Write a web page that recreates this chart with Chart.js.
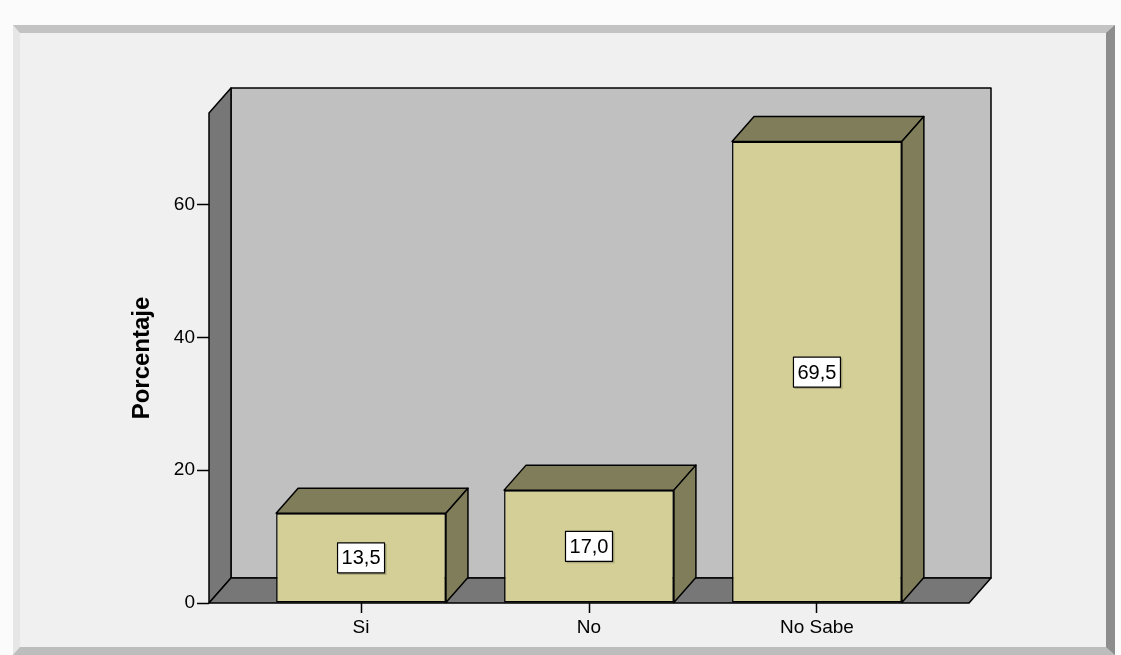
<!DOCTYPE html>
<html>
<head>
<meta charset="utf-8">
<title>Porcentaje</title>
<script src="https://cdn.jsdelivr.net/npm/chart.js@4"></script>
<style>
    html, body { margin: 0; padding: 0; background: #fbfbfb; overflow: hidden; }
    .frame {
        position: absolute; left: 13px; top: 25px; width: 1086px; height: 614px;
        background: #f0f0f0;
        border-top: 8px solid #c3c3c3; border-left: 7px solid #e6e6e6;
        border-right: 9px solid #8d8d8d; border-bottom: 8px solid #bdbdbd;
    }
    #myChart { position: absolute; left: 0; top: 0; }
</style>
</head>
<body>
<div class="frame"></div>
<canvas id="myChart" width="1121" height="655"></canvas>
<script>
// Chart data
const categories = ['Si', 'No', 'No Sabe'];
const percentages = [13.5, 17.0, 69.5];
const yTicks = [0, 20, 40, 60];
const yMax = 73.8;

// 3D depth of walls and bars (px)
const depthX = 22;
const depthY = -25;

function poly(ctx, pts, fill) {
    ctx.beginPath();
    ctx.moveTo(pts[0][0], pts[0][1]);
    for (let i = 1; i < pts.length; i++) ctx.lineTo(pts[i][0], pts[i][1]);
    ctx.closePath();
    ctx.fillStyle = fill;
    ctx.fill();
    ctx.stroke();
}

const box3d = {
    id: 'box3d',
    beforeDatasetsDraw(chart) {
        const ctx = chart.ctx;
        const a = chart.chartArea;
        ctx.save();
        ctx.lineWidth = 1.5;
        ctx.strokeStyle = '#000';
        ctx.lineJoin = 'round';
        // back wall
        poly(ctx, [[a.left + depthX, a.top + depthY], [a.right + depthX, a.top + depthY],
                   [a.right + depthX, a.bottom + depthY], [a.left + depthX, a.bottom + depthY]], '#c0c0c0');
        // left wall
        poly(ctx, [[a.left, a.top], [a.left + depthX, a.top + depthY],
                   [a.left + depthX, a.bottom + depthY], [a.left, a.bottom]], '#777777');
        // floor
        poly(ctx, [[a.left, a.bottom], [a.left + depthX, a.bottom + depthY],
                   [a.right + depthX, a.bottom + depthY], [a.right, a.bottom]], '#777777');
        ctx.restore();
    },
    afterDatasetsDraw(chart) {
        const ctx = chart.ctx;
        const meta = chart.getDatasetMeta(0);
        ctx.save();
        ctx.lineWidth = 1.5;
        ctx.strokeStyle = '#000';
        ctx.lineJoin = 'round';
        meta.data.forEach(function(bar, i) {
            const p = bar.getProps(['x', 'y', 'base', 'width'], true);
            const x0 = p.x - p.width / 2;
            const x1 = p.x + p.width / 2;
            // top face
            poly(ctx, [[x0, p.y], [x0 + depthX, p.y + depthY], [x1 + depthX, p.y + depthY], [x1, p.y]], '#807e5a');
            // side face
            poly(ctx, [[x1, p.y], [x1 + depthX, p.y + depthY], [x1 + depthX, p.base + depthY], [x1, p.base]], '#807e5a');

            // value label box
            const cy = (p.y + p.base) / 2;
            const w = 47, h = 30;
            ctx.fillStyle = 'rgba(0,0,0,0.18)';
            ctx.fillRect(p.x - w / 2 + 1, cy - h / 2 + 1, w + 1, h + 1);
            ctx.fillStyle = '#ffffff';
            ctx.fillRect(p.x - w / 2, cy - h / 2, w, h);
            ctx.lineWidth = 1.2;
            ctx.strokeRect(p.x - w / 2, cy - h / 2, w, h);
            ctx.lineWidth = 1.5;
            ctx.fillStyle = '#000';
            ctx.font = '20px "Liberation Sans", Arial, sans-serif';
            ctx.textAlign = 'center';
            ctx.textBaseline = 'middle';
            ctx.fillText(percentages[i].toFixed(1).replace('.', ','), p.x, cy + 1);
        });
        ctx.restore();
    }
};

document.addEventListener("DOMContentLoaded", function() {
    const ctx = document.getElementById('myChart').getContext('2d');
    Chart.defaults.font.family = '"Liberation Sans", Arial, sans-serif';

    const data = {
        datasets: [{
            label: 'Porcentaje',
            data: percentages.map(function(v, i) { return {x: i, y: v}; }),
            backgroundColor: '#d3cf97',
            borderColor: '#000',
            borderWidth: 1.5,
            borderSkipped: false,
            barPercentage: 0.745,
            categoryPercentage: 1
        }]
    };

    const options = {
        responsive: false,
        animation: false,
        layout: {
            padding: { top: 113, right: 152, left: 0, bottom: 0 }
        },
        scales: {
            x: {
                type: 'linear',
                min: -0.667,
                max: 2.667,
                offset: false,
                afterBuildTicks: function(axis) {
                    axis.ticks = categories.map(function(c, i) { return {value: i}; });
                },
                afterFit: function(axis) {
                    axis.height = 52;
                    axis.paddingLeft = 0;
                    axis.paddingRight = 0;
                },
                grid: { offset: false, drawOnChartArea: false, drawTicks: true, tickLength: 10, color: '#000', tickWidth: 1.5 },
                border: { display: false },
                ticks: {
                    callback: function(v) { return categories[v]; },
                    color: '#000',
                    font: { size: 19 },
                    padding: 3,
                    maxRotation: 0,
                    autoSkip: false
                }
            },
            y: {
                min: 0,
                max: yMax,
                afterBuildTicks: function(axis) {
                    axis.ticks = yTicks.map(function(v) { return {value: v}; });
                },
                afterFit: function(axis) {
                    axis.width = 209;
                    axis.paddingTop = 0;
                    axis.paddingBottom = 0;
                },
                grid: { drawOnChartArea: false, drawTicks: true, tickLength: 12, color: '#000', tickWidth: 1.5 },
                border: { display: false },
                ticks: { color: '#000', font: { size: 19 }, padding: 2 },
                title: {
                    display: true,
                    text: 'Porcentaje',
                    color: '#000',
                    font: { size: 24, weight: 'bold', lineHeight: 1 },
                    padding: { top: 130, bottom: 0 }
                }
            }
        },
        plugins: {
            legend: { display: false },
            tooltip: { enabled: false }
        }
    };

    new Chart(ctx, {
        type: 'bar',
        data: data,
        options: options,
        plugins: [box3d]
    });
});
</script>
</body>
</html>
